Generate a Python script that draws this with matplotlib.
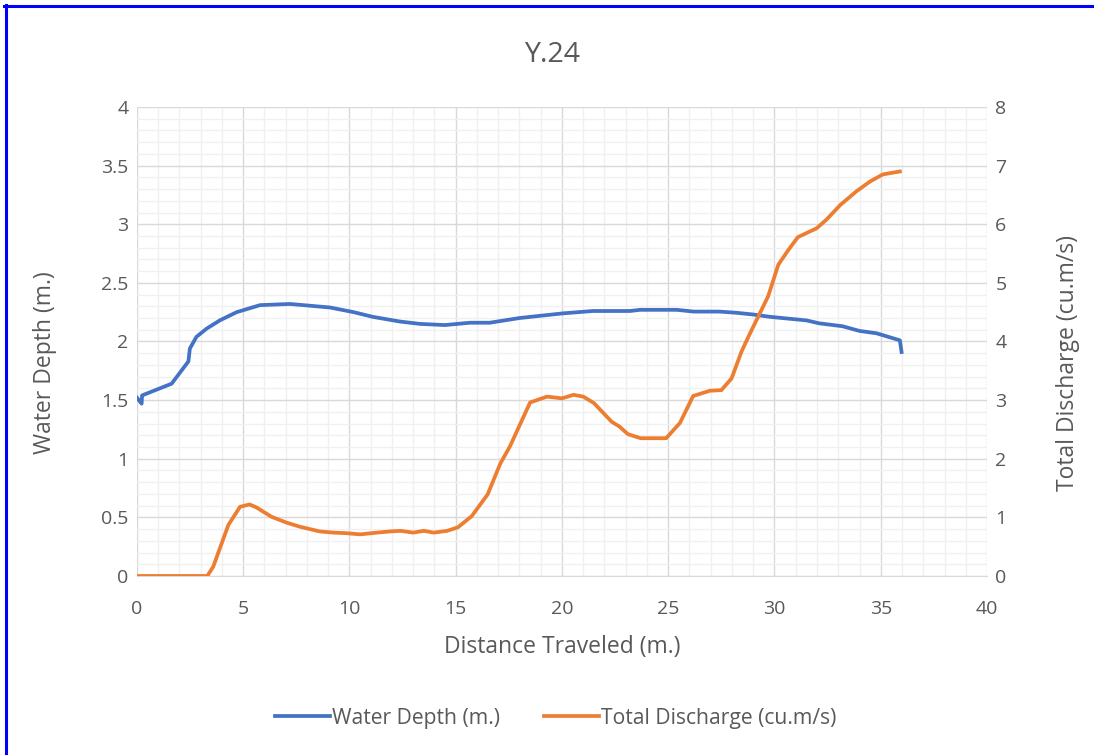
import matplotlib
matplotlib.use("Agg")
import matplotlib.pyplot as plt
from matplotlib.lines import Line2D
from matplotlib.ticker import MultipleLocator, FuncFormatter

# Water depth (left axis)
depth_x = [0.0, 0.22, 0.24, 1.63, 2.42, 2.49, 2.8, 3.28, 3.9, 4.69, 5.79, 7.2,
           9.08, 10.2, 11.1, 12.38, 13.32, 14.49, 15.67, 16.6, 18.0, 20.05,
           21.46, 23.2, 23.67, 25.4, 26.2, 27.4, 28.2, 29.0, 29.8, 31.5, 32.1,
           33.2, 34.0, 34.8, 35.9, 35.98]
depth_y = [1.52, 1.47, 1.54, 1.64, 1.83, 1.94, 2.04, 2.11, 2.18, 2.25, 2.31, 2.32,
           2.29, 2.25, 2.21, 2.17, 2.15, 2.14, 2.16, 2.16, 2.20, 2.24,
           2.26, 2.26, 2.27, 2.27, 2.255, 2.255, 2.245, 2.23, 2.21, 2.18, 2.155,
           2.13, 2.09, 2.07, 2.01, 1.91]

# Total discharge (right axis)
flow_x = [0.0, 3.31, 3.59, 4.3, 4.85, 5.3, 5.62, 6.33, 7.04, 7.67, 8.6, 9.24,
          9.86, 10.5, 11.3, 11.9, 12.4, 13.0, 13.5, 13.96, 14.6, 15.1, 15.75,
          16.5, 17.1, 17.55, 18.5, 19.3, 20.0, 20.54, 21.0, 21.5, 22.34, 22.7,
          23.1, 23.7, 24.9, 25.55, 26.17, 26.96, 27.5, 27.98, 28.45, 28.85,
          29.7, 30.18, 30.65, 31.1, 31.98, 32.45, 33.1, 33.85, 34.5, 35.1, 35.9]
flow_y = [0.0, 0.0, 0.16, 0.87, 1.18, 1.22, 1.17, 1.01, 0.91, 0.84, 0.76, 0.74,
          0.73, 0.71, 0.74, 0.76, 0.77, 0.74, 0.77, 0.74, 0.77, 0.83, 1.02,
          1.39, 1.92, 2.21, 2.96, 3.06, 3.03, 3.09, 3.06, 2.95, 2.63, 2.55,
          2.42, 2.35, 2.35, 2.61, 3.07, 3.16, 3.17, 3.37, 3.83, 4.14,
          4.77, 5.31, 5.56, 5.78, 5.93, 6.08, 6.33, 6.56, 6.73, 6.85, 6.90]

TXT = "#595959"
BLUE = "#4472C4"
ORANGE = "#ED7D31"

plt.rcParams["font.family"] = ["Open Sans", "DejaVu Sans"]

fig = plt.figure(figsize=(10.94, 7.55), dpi=100)
ax = fig.add_axes([0.1252, 0.2371, 0.7770, 0.6212])
ax2 = ax.twinx()

ax.plot(depth_x, depth_y, color=BLUE, lw=2.7, solid_joinstyle="round",
        label="Water Depth (m.)")
ax2.plot(flow_x, flow_y, color=ORANGE, lw=2.7, solid_joinstyle="round",
         label="Total Discharge (cu.m/s)")

ax.set_xlim(0, 40)
ax.set_ylim(0, 4)
ax2.set_ylim(0, 8)
ax.xaxis.set_major_locator(MultipleLocator(5))
ax.xaxis.set_minor_locator(MultipleLocator(1))
ax.yaxis.set_major_locator(MultipleLocator(0.5))
ax.yaxis.set_minor_locator(MultipleLocator(0.1))
ax2.yaxis.set_major_locator(MultipleLocator(1))

ax.grid(True, which="major", color="#d9d9d9", lw=1.0)
ax.grid(True, which="minor", color="#f0f0f0", lw=1.0)
ax.set_axisbelow(True)

for a in (ax, ax2):
    for s in a.spines.values():
        s.set_visible(False)
    a.tick_params(which="both", length=0, labelsize=14, colors=TXT, pad=6)
ax.tick_params(axis="x", pad=17)
ax.spines["bottom"].set_visible(True)
ax.spines["bottom"].set_color("#d9d9d9")
ax.yaxis.set_major_formatter(FuncFormatter(lambda v, p: f"{v:g}"))

ax.set_xlabel("Distance Traveled (m.)", fontsize=16.5, color=TXT)
ax.set_ylabel("Water Depth (m.)", fontsize=16.5, color=TXT)
ax2.set_ylabel("Total Discharge (cu.m/s)", fontsize=16.5, color=TXT)
ax.xaxis.set_label_coords(0.5, -0.152)
ax.xaxis.label.set_va("center")
ax.yaxis.set_label_coords(-0.108, 0.455)
ax.yaxis.label.set_va("center")
ax2.yaxis.set_label_coords(1.095, 0.455)
ax2.yaxis.label.set_va("center")

fig.text(0.505, 0.927, "Y.24", fontsize=20.5, color=TXT, ha="center", va="center")

h1, l1 = ax.get_legend_handles_labels()
h2, l2 = ax2.get_legend_handles_labels()
fig.legend(h1 + h2, l1 + l2, loc="center", bbox_to_anchor=(0.508, 0.049),
           ncol=2, frameon=False, fontsize=15.2, labelcolor=TXT,
           handlelength=2.6, handletextpad=0.1, columnspacing=2.1)

# window border
fig.add_artist(Line2D([0.004, 1.0], [0.9925, 0.9925], transform=fig.transFigure,
                      color="#0000ff", lw=2.2))
fig.add_artist(Line2D([0.0055, 0.0055], [0.0, 0.994], transform=fig.transFigure,
                      color="#0000ff", lw=2.2))

fig.savefig("out.png", dpi=100)
